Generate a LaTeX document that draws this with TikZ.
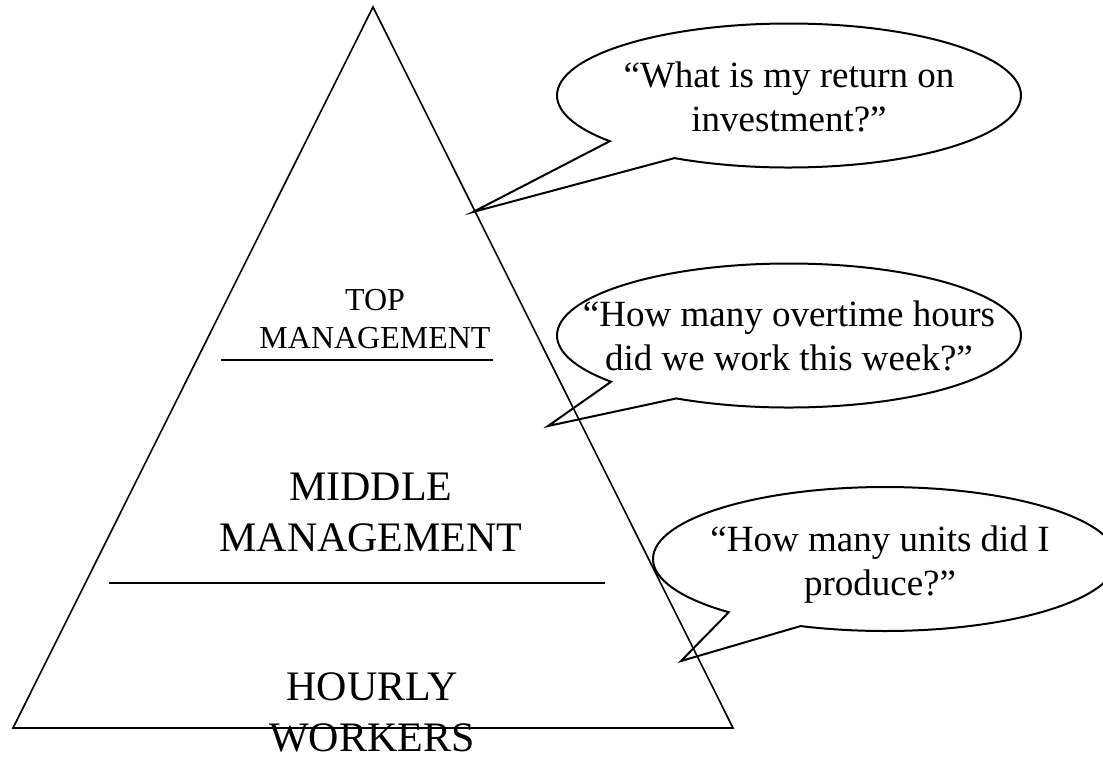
\documentclass[tikz,border=0pt]{standalone}
\usepackage{fontspec}
\setmainfont{Liberation Serif}
\usetikzlibrary{shapes.callouts,positioning}

\tikzset{
  bubble/.style={ellipse callout, draw, line width=2pt, minimum width=464pt,
    minimum height=144pt, inner sep=0pt, callout pointer arc=21},
  asktext/.style={align=center, inner sep=0pt, font=\fontsize{37}{44}\selectfont},
  tier/.style={align=center, inner sep=0pt, font=\fontsize{42}{51}\selectfont},
  toptier/.style={align=center, inner sep=0pt, font=\fontsize{32}{38}\selectfont},
  divider/.style={line width=2.6pt},
}

\begin{document}
\begin{tikzpicture}[x=1pt,y=-1pt]
\useasboundingbox (0,0) rectangle (1103,758);
% pyramid
\coordinate (apex) at (373,7);
\coordinate (baseL) at (13,728);
\coordinate (baseR) at (733,728);
\draw[line width=1.6pt] (apex) -- (baseL) -- (baseR) -- cycle;
\draw[divider] (221,360) -- (493,360);
\draw[divider] (109,583) -- (605,583);

\node[toptier, anchor=base] (top) at (375,348) {TOP\\MANAGEMENT};
\node[tier, anchor=base] (middle) at (371,551) {MIDDLE\\MANAGEMENT};
\node[tier, anchor=base] (hourly) at (372,751) {HOURLY\\WORKERS};

% callouts
\coordinate (tip1) at (473,212);
\coordinate (tip2) at (548,426);
\coordinate (tip3) at (681,661);
\node[bubble, callout absolute pointer={(tip1)}] (roi) at (789,95.5) {};
\node[bubble, callout absolute pointer={(tip2)}] (overtime) at (789,335.5) {};
\node[bubble, callout absolute pointer={(tip3)}] (units) at (885,559) {};

\node[asktext, anchor=base] at (789,131) {“What is my return on\\investment?”};
\node[asktext, anchor=base] at (789,370) {“How many overtime hours\\did we work this week?”};
\node[asktext, anchor=base] at (880,595) {“How many units did I\\produce?”};
\end{tikzpicture}
\end{document}
